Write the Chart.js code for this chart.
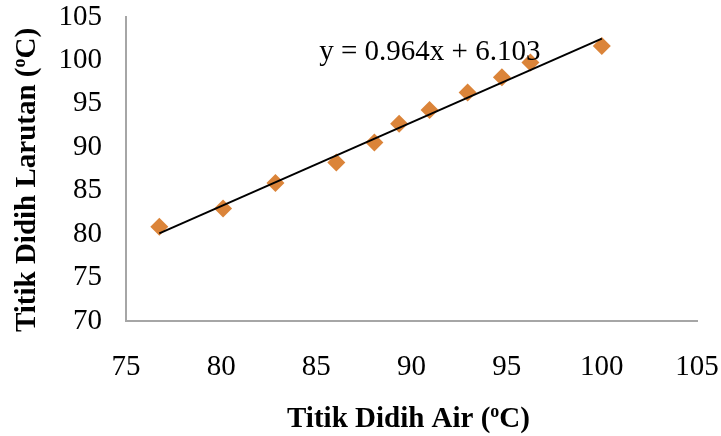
<!DOCTYPE html>
<html>
<head>
<meta charset="utf-8">
<script src="https://cdn.jsdelivr.net/npm/chart.js@4.4.0/dist/chart.umd.min.js"></script>
<style>
  html, body { margin: 0; padding: 0; background: #fff; }
  #wrap { width: 721px; height: 436px; }
</style>
</head>
<body>
<div id="wrap"><canvas id="bpChart" width="721" height="436"></canvas></div>
<script>
// boiling point of water (x) against boiling point of the solution (y), in degrees C
const airTemps = [76.75, 80.1, 82.85, 86.05, 88.05, 89.35, 90.95, 92.95, 94.75, 96.25, 100];
const larutanTemps = [80.85, 82.95, 85.9, 88.25, 90.55, 92.7, 94.3, 96.3, 98.05, 99.75, 101.65];

// linear trendline y = 0.964x + 6.103
const slope = 0.964;
const intercept = 6.103;

const xTicks = [75, 80, 85, 90, 95, 100, 105];
const yTicks = [70, 75, 80, 85, 90, 95, 100, 105];

const SERIF = '"Liberation Serif", "Times New Roman", serif';
const AXIS_GREY = '#a6a6a6';

const points = airTemps.map((x, i) => ({ x: x, y: larutanTemps[i] }));
const xMin = Math.min(...airTemps);
const xMax = Math.max(...airTemps);
const trend = [
  { x: xMin, y: slope * xMin + intercept },
  { x: xMax, y: slope * xMax + intercept }
];

// draws "text (ºC)" with a raised small o
function drawDegreeTitle(ctx, head, tail, cx, baseY) {
  const bigFont = 'bold 29px ' + SERIF;
  const supFont = 'bold 18px ' + SERIF;
  ctx.font = bigFont;
  const w1 = ctx.measureText(head).width;
  const w3 = ctx.measureText(tail).width;
  ctx.font = supFont;
  const w2 = ctx.measureText('o').width;
  let x = cx - (w1 + w2 + w3) / 2;
  ctx.textAlign = 'left';
  ctx.textBaseline = 'alphabetic';
  ctx.fillStyle = '#000';
  ctx.font = bigFont;
  ctx.fillText(head, x, baseY);
  x += w1;
  ctx.font = supFont;
  ctx.fillText('o', x, baseY - 10);
  x += w2;
  ctx.font = bigFont;
  ctx.fillText(tail, x, baseY);
}

const titlesPlugin = {
  id: 'titles',
  afterDraw(chart) {
    const ctx = chart.ctx;
    const area = chart.chartArea;
    const xs = chart.scales.x;
    const ys = chart.scales.y;
    ctx.save();

    // equation of the trendline
    ctx.font = '29px ' + SERIF;
    ctx.fillStyle = '#000';
    ctx.textAlign = 'left';
    ctx.textBaseline = 'alphabetic';
    ctx.fillText('y = ' + slope + 'x + ' + intercept, xs.getPixelForValue(85.15), ys.getPixelForValue(100.05));

    // x axis title
    drawDegreeTitle(ctx, 'Titik Didih Air (', 'C)', (area.left + area.right) / 2 - 3, 427);

    // y axis title, rotated
    ctx.translate(35, 180);
    ctx.rotate(-Math.PI / 2);
    drawDegreeTitle(ctx, 'Titik Didih Larutan (', 'C)', 0, 0);
    ctx.restore();
  }
};

new Chart(document.getElementById('bpChart'), {
  type: 'scatter',
  data: {
    datasets: [
      {
        label: 'Titik Didih',
        data: points,
        pointStyle: 'rectRot',
        pointRadius: 9,
        pointHoverRadius: 9,
        backgroundColor: '#db8439',
        borderColor: '#db8439',
        borderWidth: 0,
        order: 2
      },
      {
        label: 'Linear',
        type: 'line',
        data: trend,
        borderColor: '#000',
        borderWidth: 2,
        pointRadius: 0,
        fill: false,
        order: 1
      }
    ]
  },
  options: {
    responsive: false,
    animation: false,
    devicePixelRatio: 1,
    layout: { padding: 0 },
    plugins: {
      legend: { display: false },
      tooltip: { enabled: false }
    },
    scales: {
      x: {
        type: 'linear',
        min: 75,
        max: 105,
        afterBuildTicks: axis => { axis.ticks = xTicks.map(v => ({ value: v })); },
        afterFit: axis => {
          axis.height = 115;
          axis.paddingLeft = 0;
          axis.paddingRight = 24;
        },
        grid: { display: false, drawTicks: false },
        border: { display: true, color: AXIS_GREY, width: 2 },
        ticks: {
          color: '#000',
          padding: 29,
          maxRotation: 0,
          font: { family: SERIF, size: 29 }
        }
      },
      y: {
        type: 'linear',
        min: 70,
        max: 105,
        afterBuildTicks: axis => { axis.ticks = yTicks.map(v => ({ value: v })); },
        afterFit: axis => {
          axis.width = 126;
          axis.paddingTop = 17;
          axis.paddingBottom = 0;
        },
        grid: { display: false, drawTicks: false },
        border: { display: true, color: AXIS_GREY, width: 2 },
        ticks: {
          color: '#000',
          padding: 24,
          font: { family: SERIF, size: 29 }
        }
      }
    }
  },
  plugins: [titlesPlugin]
});
</script>
</body>
</html>
